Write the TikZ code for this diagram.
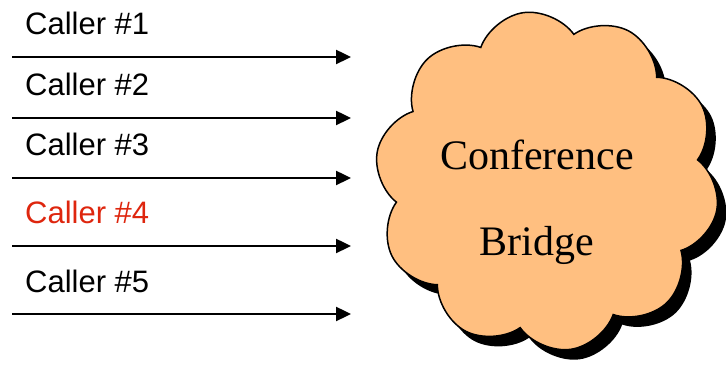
\documentclass[tikz,border=0pt]{standalone}
\usepackage{fontspec}
\setmainfont{Liberation Serif}
\setsansfont{Liberation Sans}
\usetikzlibrary{shapes,shadows,arrows.meta}
\definecolor{bridgefill}{RGB}{255,191,128}
\definecolor{callerred}{RGB}{222,38,14}

\begin{document}
\begin{tikzpicture} [
    x=1pt, y=1pt,
    line width=2.4pt,
  ]

  \tikzstyle{caller} = [
    anchor=base west,
    inner sep=0pt,
    font=\sffamily\fontsize{31}{36}\selectfont,
  ]
  \tikzstyle{call} = [
    -{Triangle[length=15pt,width=14pt]},
  ]
  \tikzstyle{bridge} = [
    cloud,
    cloud puffs=10,
    cloud puff arc=125,
    aspect=1,
    minimum width=345pt,
    minimum height=340pt,
    draw=black,
    line width=1.5pt,
    fill=bridgefill,
    drop shadow={opacity=1, fill=black, shadow xshift=9pt, shadow yshift=-10pt},
  ]

  \useasboundingbox (0,0) rectangle (726,366);

  \node[bridge,rotate=8] (br) at (547,185) {};
  \node[font=\fontsize{42}{86}\selectfont, align=center] (brtext) at (537,164) {Conference\\Bridge};

  \node[caller]                 (c1) at (24,331) {Caller \#1};
  \node[caller]                 (c2) at (24,270) {Caller \#2};
  \node[caller]                 (c3) at (24,210) {Caller \#3};
  \node[caller,text=callerred]  (c4) at (24,142) {Caller \#4};
  \node[caller]                 (c5) at (24,73)  {Caller \#5};

  \coordinate (s1) at (12,309);  \coordinate (e1) at (351,309);
  \coordinate (s2) at (12,248);  \coordinate (e2) at (351,248);
  \coordinate (s3) at (12,188);  \coordinate (e3) at (351,188);
  \coordinate (s4) at (12,120);  \coordinate (e4) at (351,120);
  \coordinate (s5) at (12,52);   \coordinate (e5) at (351,52);

  \draw[call] (s1) -- (e1);
  \draw[call] (s2) -- (e2);
  \draw[call] (s3) -- (e3);
  \draw[call] (s4) -- (e4);
  \draw[call] (s5) -- (e5);

\end{tikzpicture}
\end{document}
